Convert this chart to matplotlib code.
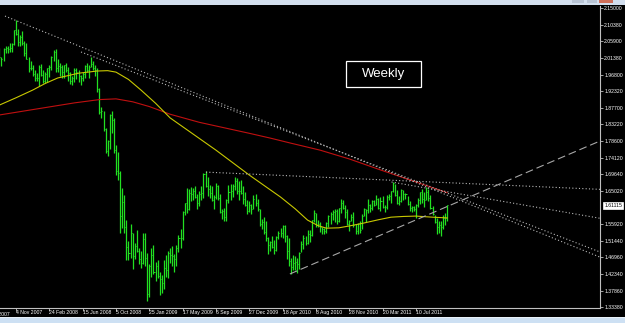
import numpy as np
import matplotlib.pyplot as plt
from matplotlib.patches import Rectangle

# weekly bars, week index 0 = 4 Nov 2007
weeks = np.arange(-8, 208)

highs = [
    2.040, 2.017, 2.040, 2.045, 2.045, 2.055, 2.055, 2.090,
    2.116, 2.093, 2.075, 2.088, 2.060, 2.055, 2.015, 2.005,
    1.995, 1.982, 1.972, 1.995, 1.996, 1.980, 1.976, 1.987,
    1.995, 2.020, 2.035, 2.039, 2.010, 2.000, 1.995, 1.995,
    2.000, 1.990, 1.975, 1.965, 1.985, 1.985, 1.982, 1.967,
    1.975, 1.995, 2.000, 1.995, 2.016, 2.005, 1.995, 1.985,
    1.932, 1.880, 1.870, 1.823, 1.790, 1.862, 1.868, 1.850,
    1.775, 1.758, 1.706, 1.658, 1.640, 1.572, 1.515, 1.560,
    1.536, 1.508, 1.543, 1.495, 1.486, 1.536, 1.535, 1.480,
    1.450, 1.494, 1.502, 1.457, 1.462, 1.429, 1.420, 1.462,
    1.476, 1.487, 1.495, 1.500, 1.479, 1.502, 1.530, 1.546,
    1.596, 1.619, 1.659, 1.657, 1.661, 1.660, 1.663, 1.643,
    1.650, 1.665, 1.700, 1.704, 1.690, 1.667, 1.663, 1.640,
    1.672, 1.667, 1.643, 1.600, 1.605, 1.630, 1.666, 1.670,
    1.670, 1.688, 1.687, 1.679, 1.680, 1.663, 1.647, 1.625,
    1.624, 1.615, 1.639, 1.643, 1.628, 1.600, 1.573, 1.580,
    1.568, 1.525, 1.515, 1.529, 1.517, 1.528, 1.540, 1.550,
    1.557, 1.559, 1.531, 1.523, 1.467, 1.476, 1.474, 1.467,
    1.484, 1.514, 1.531, 1.527, 1.543, 1.544, 1.571, 1.599,
    1.591, 1.570, 1.567, 1.551, 1.550, 1.567, 1.584, 1.592,
    1.598, 1.600, 1.601, 1.605, 1.630, 1.627, 1.612, 1.602,
    1.571, 1.588, 1.592, 1.560, 1.564, 1.569, 1.589, 1.603,
    1.601, 1.628, 1.616, 1.626, 1.627, 1.640, 1.631, 1.633,
    1.638, 1.611, 1.640, 1.641, 1.650, 1.675, 1.670, 1.653,
    1.637, 1.655, 1.654, 1.644, 1.638, 1.624, 1.610, 1.609,
    1.616, 1.631, 1.648, 1.655, 1.649, 1.662, 1.656, 1.640,
    1.609, 1.585, 1.577, 1.568, 1.568, 1.586, 1.590, 1.612,
]
lows = [
    2.012, 1.992, 2.005, 2.026, 2.027, 2.030, 2.030, 2.050,
    2.075, 2.045, 2.045, 2.050, 2.020, 2.010, 1.975, 1.980,
    1.965, 1.950, 1.950, 1.936, 1.965, 1.945, 1.945, 1.949,
    1.962, 1.980, 2.005, 1.975, 1.975, 1.965, 1.960, 1.960,
    1.976, 1.950, 1.942, 1.940, 1.948, 1.955, 1.947, 1.940,
    1.950, 1.960, 1.975, 1.960, 1.990, 1.980, 1.964, 1.920,
    1.860, 1.850, 1.815, 1.755, 1.746, 1.765, 1.810, 1.755,
    1.695, 1.680, 1.536, 1.550, 1.535, 1.461, 1.461, 1.467,
    1.437, 1.464, 1.483, 1.450, 1.439, 1.451, 1.447, 1.350,
    1.361, 1.416, 1.423, 1.406, 1.413, 1.366, 1.372, 1.382,
    1.415, 1.412, 1.454, 1.445, 1.430, 1.446, 1.485, 1.494,
    1.517, 1.586, 1.590, 1.598, 1.622, 1.627, 1.632, 1.600,
    1.610, 1.627, 1.632, 1.661, 1.637, 1.631, 1.622, 1.600,
    1.629, 1.627, 1.590, 1.574, 1.568, 1.569, 1.617, 1.626,
    1.635, 1.652, 1.643, 1.625, 1.643, 1.614, 1.610, 1.589,
    1.593, 1.588, 1.602, 1.610, 1.595, 1.555, 1.548, 1.534,
    1.514, 1.478, 1.488, 1.494, 1.478, 1.486, 1.519, 1.525,
    1.522, 1.512, 1.466, 1.445, 1.423, 1.434, 1.434, 1.426,
    1.437, 1.485, 1.493, 1.504, 1.507, 1.512, 1.528, 1.567,
    1.553, 1.551, 1.538, 1.533, 1.532, 1.536, 1.551, 1.561,
    1.571, 1.566, 1.560, 1.566, 1.591, 1.600, 1.578, 1.559,
    1.540, 1.569, 1.552, 1.534, 1.532, 1.537, 1.548, 1.582,
    1.567, 1.590, 1.593, 1.598, 1.609, 1.611, 1.600, 1.595,
    1.604, 1.594, 1.602, 1.625, 1.618, 1.647, 1.636, 1.615,
    1.612, 1.620, 1.625, 1.628, 1.613, 1.595, 1.594, 1.597,
    1.578, 1.608, 1.615, 1.617, 1.608, 1.625, 1.622, 1.600,
    1.584, 1.563, 1.533, 1.536, 1.527, 1.546, 1.558, 1.569,
]
closes = [
    2.015, 2.010, 2.037, 2.040, 2.037, 2.040, 2.053, 2.090,
    2.080, 2.058, 2.070, 2.054, 2.028, 2.012, 1.985, 1.986,
    1.970, 1.958, 1.958, 1.990, 1.967, 1.950, 1.970, 1.985,
    1.990, 2.015, 2.030, 1.985, 1.993, 1.990, 1.975, 1.995,
    1.982, 1.972, 1.951, 1.958, 1.980, 1.975, 1.965, 1.960,
    1.970, 1.992, 1.982, 1.990, 1.998, 1.987, 1.982, 1.928,
    1.865, 1.869, 1.820, 1.761, 1.787, 1.858, 1.843, 1.763,
    1.705, 1.700, 1.583, 1.620, 1.552, 1.497, 1.482, 1.536,
    1.473, 1.500, 1.487, 1.465, 1.455, 1.520, 1.467, 1.369,
    1.446, 1.475, 1.429, 1.446, 1.418, 1.411, 1.398, 1.440,
    1.434, 1.482, 1.477, 1.472, 1.466, 1.496, 1.522, 1.522,
    1.592, 1.617, 1.601, 1.645, 1.642, 1.651, 1.635, 1.617,
    1.643, 1.644, 1.698, 1.665, 1.657, 1.645, 1.627, 1.634,
    1.664, 1.631, 1.593, 1.597, 1.580, 1.626, 1.648, 1.651,
    1.665, 1.678, 1.651, 1.651, 1.645, 1.628, 1.613, 1.597,
    1.611, 1.600, 1.629, 1.617, 1.600, 1.561, 1.565, 1.538,
    1.523, 1.503, 1.512, 1.497, 1.489, 1.525, 1.537, 1.537,
    1.555, 1.529, 1.487, 1.459, 1.443, 1.453, 1.456, 1.451,
    1.481, 1.505, 1.521, 1.509, 1.533, 1.530, 1.570, 1.590,
    1.557, 1.560, 1.551, 1.548, 1.541, 1.562, 1.581, 1.588,
    1.594, 1.596, 1.569, 1.604, 1.618, 1.604, 1.594, 1.561,
    1.568, 1.580, 1.557, 1.542, 1.561, 1.545, 1.583, 1.601,
    1.598, 1.613, 1.604, 1.622, 1.613, 1.630, 1.603, 1.624,
    1.607, 1.607, 1.634, 1.636, 1.650, 1.673, 1.640, 1.619,
    1.624, 1.653, 1.642, 1.641, 1.616, 1.605, 1.607, 1.600,
    1.612, 1.627, 1.647, 1.628, 1.627, 1.649, 1.631, 1.604,
    1.587, 1.566, 1.552, 1.559, 1.553, 1.577, 1.578, 1.611,
]

# moving averages
ma_fast_x = [-8, 0, 8, 14, 20, 30, 39, 44, 48, 54, 60, 67, 74, 85, 96, 104, 112,
             120, 127, 134, 140, 145, 149, 155, 160, 167, 174, 180, 186, 192, 200, 207]
ma_fast_y = [1.885, 1.905, 1.926, 1.944, 1.959, 1.972, 1.978, 1.979, 1.975, 1.955,
             1.926, 1.890, 1.850, 1.806, 1.762, 1.728, 1.694, 1.662, 1.634, 1.602,
             1.571, 1.556, 1.549, 1.550, 1.555, 1.563, 1.572, 1.579, 1.581, 1.582,
             1.579, 1.577]
ma_slow_x = [-8, 4, 16, 28, 40, 48, 56, 64, 74, 88, 100, 112, 122, 132, 146, 160,
             175, 190, 207]
ma_slow_y = [1.858, 1.869, 1.880, 1.891, 1.900, 1.902, 1.894, 1.881, 1.860, 1.838,
             1.823, 1.808, 1.795, 1.781, 1.762, 1.738, 1.708, 1.679, 1.646]

# trend lines (start / end points)
dotted_lines = [
    ([-5.3, 280.4], [2.128, 1.470]),
    ([31.2, 280.4], [2.030, 1.484]),
    ([91.2, 280.4], [1.702, 1.655]),
    ([180.3, 280.4], [1.675, 1.576]),
]
dashed_line = ([131.5, 280.4], [1.424, 1.787])

price_ticks = [2.15, 2.1038, 2.059, 2.0138, 1.968, 1.9232, 1.877, 1.8322, 1.786,
               1.7412, 1.6964, 1.6502, 1.5592, 1.5144, 1.4696, 1.4234, 1.3786, 1.3338]
current_price = 1.61115
date_pos = [0, 16, 32, 48, 64, 80, 96, 112, 128, 144, 160, 176, 192]
date_labels = ['4 Nov 2007', '24 Feb 2008', '15 Jun 2008', '5 Oct 2008',
               '25 Jan 2009', '17 May 2009', '6 Sep 2009', '27 Dec 2009', '18 Apr 2010',
               '8 Aug 2010', '28 Nov 2010', '20 Mar 2011', '10 Jul 2011']
first_date = (-16, '15 Jul 2007')

W, H = 625, 323
fig = plt.figure(figsize=(W / 100, H / 100), dpi=100, facecolor='black')
plt.rcParams['font.family'] = ['Liberation Sans', 'DejaVu Sans']

ax = fig.add_axes([0, 15 / H, 600 / W, 302 / H])
ax.set_facecolor('black')

# bars
ax.vlines(weeks, lows, highs, color='#22e022', lw=0.9)
ax.hlines(closes, weeks, weeks + 0.5, color='#22e022', lw=0.7)

ax.plot(ma_slow_x, ma_slow_y, color='#c01010', lw=0.8)
ax.plot(ma_fast_x, ma_fast_y, color='#c8c800', lw=0.8)

for xs, ys in dotted_lines:
    ax.plot(xs, ys, color='#b8b8b8', lw=0.8, linestyle=(0, (1, 2)))
ax.plot(dashed_line[0], dashed_line[1], color='#a8a8a8', lw=0.8, linestyle=(0, (7, 3.5)))

# frame
for s in ['left', 'top']:
    ax.spines[s].set_visible(False)
for s in ['right', 'bottom']:
    ax.spines[s].set_color('#c0c0c0')
    ax.spines[s].set_linewidth(0.8)

ax.yaxis.tick_right()
ax.set_yticks(price_ticks)
ax.set_yticklabels([f'{p:.5f}' for p in price_ticks])
ax.tick_params(axis='y', colors='#c0c0c0', labelcolor='white', length=2, width=0.6,
               labelsize=3.7, pad=1)
ax.set_xticks(date_pos)
ax.set_xticklabels(date_labels)
for lab in ax.get_xticklabels():
    lab.set_horizontalalignment('left')
ax.tick_params(axis='x', colors='#c0c0c0', labelcolor='white', length=2.5, width=0.6,
               labelsize=3.7, pad=-1.2)

# limits last, so the ticks do not widen them
ax.set_xlim(-7.7, 280.4)
ax.set_ylim(1.3311, 2.1555)

# partly hidden first date label at the left edge
ax.text(first_date[0], -0.012, first_date[1], transform=ax.get_xaxis_transform(),
        ha='left', va='top', fontsize=3.7, color='white', clip_on=False)

ax.annotate(f'{current_price:.5f}', xy=(1, current_price), xycoords=('axes fraction', 'data'),
            xytext=(3, 0), textcoords='offset points', va='center', ha='left',
            fontsize=3.7, color='black',
            bbox=dict(boxstyle='square,pad=0.15', fc='white', ec='white', lw=0.5),
            annotation_clip=False)

# "Weekly" label box
fig.patches.append(Rectangle((346 / W, 1 - 87 / H), 75 / W, 26 / H, transform=fig.transFigure,
                             fc='black', ec='white', lw=0.9))
fig.text(383.5 / W, 1 - 74 / H, 'Weekly', color='white', fontsize=9.5, ha='center', va='center')

# window chrome
fig.patches.append(Rectangle((0, 1 - 5 / H), 1, 5 / H, transform=fig.transFigure,
                             fc='#d3dfee', ec='none'))
for x0, x1, c in [(572, 584, '#b8c4d4'), (587, 597, '#b8c4d4'), (599, 613, '#d0705a')]:
    fig.patches.append(Rectangle((x0 / W, 1 - 3 / H), (x1 - x0) / W, 3 / H,
                                 transform=fig.transFigure, fc=c, ec='none'))
fig.patches.append(Rectangle((0, 0), 1, 6 / H, transform=fig.transFigure,
                             fc='#cde0f3', ec='none', zorder=-1))
fig.patches.append(Rectangle((0, 5 / H), 1, 1 / H, transform=fig.transFigure,
                             fc='#e8f0f8', ec='none', zorder=-1))

fig.savefig('out.png', dpi=100, facecolor='black', bbox_inches=None)
